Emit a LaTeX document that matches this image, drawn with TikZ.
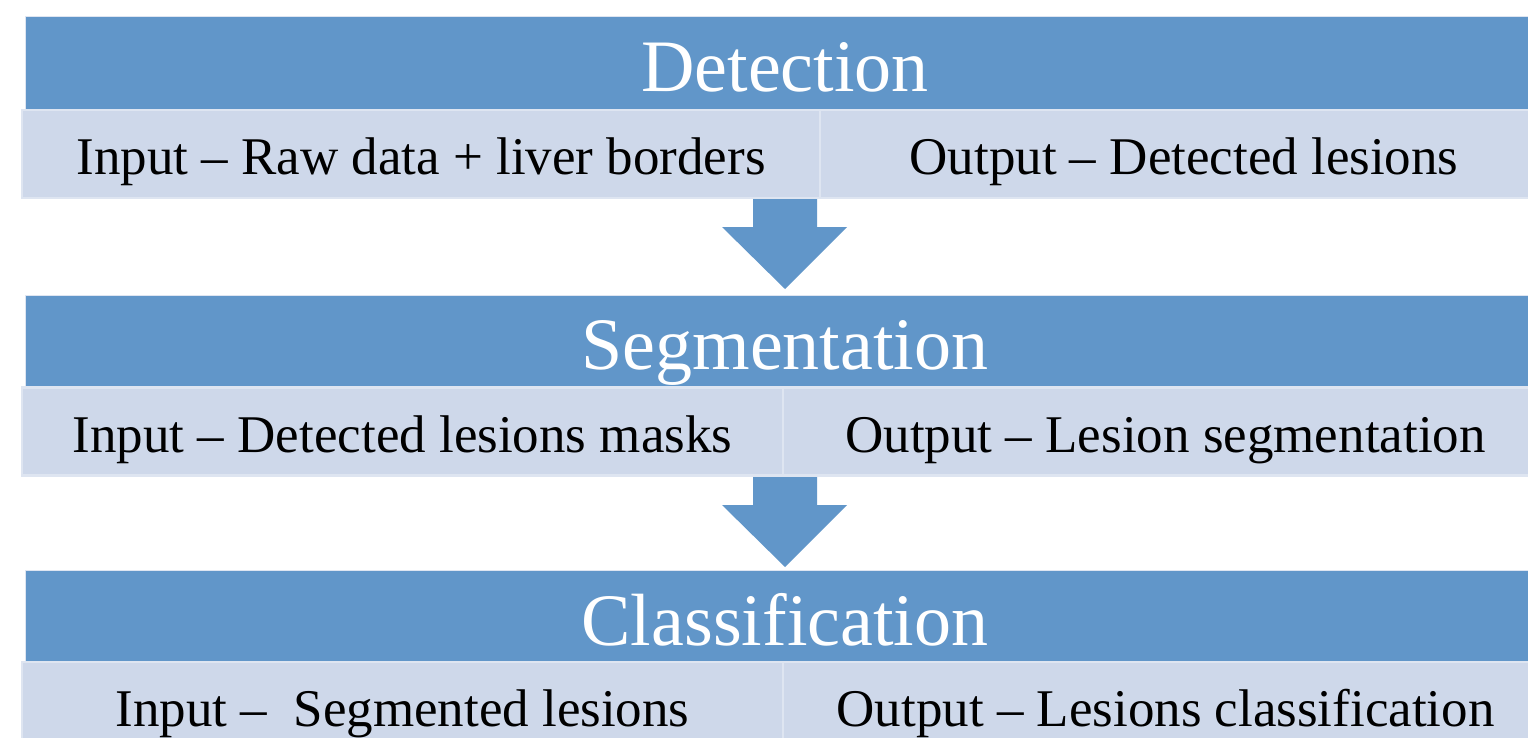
\documentclass[tikz,border=0pt]{standalone}
\usepackage{fontspec}
\setmainfont{Liberation Serif}
\definecolor{hdr}{RGB}{97,150,201}
\definecolor{cellc}{RGB}{206,216,234}
\definecolor{celledge}{RGB}{222,229,241}
\tikzset{
  hdrbox/.style={fill=hdr, draw=celledge, line width=1pt, minimum width=1520pt, minimum height=93pt,
    inner sep=0pt, text height=69pt, text depth=13pt, text=white, font=\fontsize{74}{80}\selectfont},
  cellbox/.style={fill=cellc, draw=celledge, line width=2.5pt, minimum height=88pt, inner sep=0pt,
    text height=49pt, text depth=8pt, text=black, font=\fontsize{53}{60}\selectfont},
  downarrow/.pic={\fill[hdr] (-32,0) -- (32,0) -- (32,-30) -- (62,-30) -- (0,-92) -- (-63,-30) -- (-32,-30) -- cycle;}
}
\begin{document}
\begin{tikzpicture}[x=1pt,y=1pt]
\useasboundingbox (0,0) rectangle (1528,-738);
\clip (0,0) rectangle (1528,-738);
\fill[white] (0,0) rectangle (1528,-738);
% Detection
\node[hdrbox] (h1) at (785,-63.5) {Detection};
\coordinate (a1) at (785,-197);
\pic at (a1) {downarrow};
\node[cellbox, minimum width=798pt] (r1l) at (421,-154) {Input -- Raw data + liver borders};
\node[cellbox, minimum width=728pt] (r1r) at (1184,-154) {Output -- Detected lesions};
% Segmentation
\node[hdrbox] (h2) at (785,-341.5) {Segmentation};
\coordinate (a2) at (785,-475);
\pic at (a2) {downarrow};
\node[cellbox, minimum width=761pt] (r2l) at (402.5,-431.5) {Input -- Detected lesions masks};
\node[cellbox, minimum width=765pt] (r2r) at (1165.5,-431.5) {Output -- Lesion segmentation};
% Classification
\node[hdrbox] (h3) at (785,-617) {Classification};
\node[cellbox, minimum width=761pt] (r3l) at (402.5,-706) {Input --\ \ Segmented lesions};
\node[cellbox, minimum width=765pt] (r3r) at (1165.5,-706) {Output -- Lesions classification};
\end{tikzpicture}
\end{document}
